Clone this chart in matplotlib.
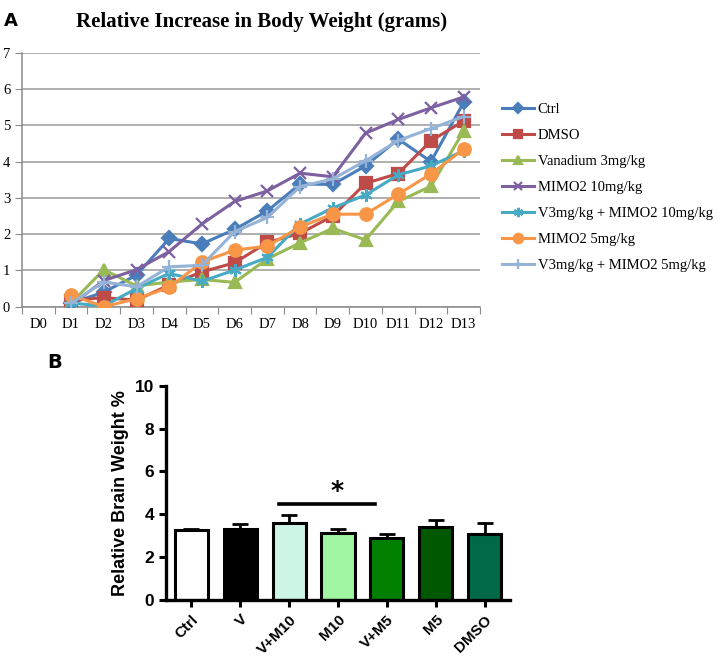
import numpy as np
import matplotlib
matplotlib.use('Agg')
import matplotlib.pyplot as plt


# ---- panel A data: relative body weight gain, D1..D13 (D0 is empty)
days = ['D0', 'D1', 'D2', 'D3', 'D4', 'D5', 'D6', 'D7', 'D8', 'D9', 'D10', 'D11', 'D12', 'D13']

ctrl      = [0.10, 0.40, 0.87, 1.88, 1.73, 2.13, 2.64, 3.38, 3.37, 3.88, 4.62, 4.00, 5.63]
dmso      = [0.17, 0.25, 0.18, 0.60, 0.96, 1.21, 1.77, 2.02, 2.50, 3.40, 3.67, 4.57, 5.12]
vanadium  = [0.10, 1.02, 0.57, 0.68, 0.75, 0.67, 1.32, 1.76, 2.16, 1.84, 2.90, 3.32, 4.84]
mimo10    = [0.05, 0.72, 1.02, 1.52, 2.28, 2.90, 3.19, 3.68, 3.58, 4.78, 5.16, 5.48, 5.78]
v_mimo10  = [0.10, 0.02, 0.50, 0.92, 0.70, 1.01, 1.36, 2.28, 2.72, 3.08, 3.63, 3.88, 4.30]
mimo5     = [0.32, 0.00, 0.22, 0.53, 1.23, 1.56, 1.67, 2.20, 2.55, 2.55, 3.10, 3.66, 4.34]
v_mimo5   = [0.10, 0.68, 0.55, 1.10, 1.14, 2.07, 2.46, 3.31, 3.52, 4.02, 4.58, 4.91, 5.24]

series_labels = ['Ctrl', 'DMSO', 'Vanadium 3mg/kg', 'MIMO2 10mg/kg',
                 'V3mg/kg + MIMO2 10mg/kg', 'MIMO2 5mg/kg', 'V3mg/kg + MIMO2 5mg/kg']

# ---- panel B data: relative brain weight %
groups     = ['Ctrl', 'V', 'V+M10', 'M10', 'V+M5', 'M5', 'DMSO']
brain_mean = [3.27, 3.30, 3.57, 3.11, 2.91, 3.39, 3.06]
brain_err  = [0.03, 0.25, 0.41, 0.22, 0.19, 0.36, 0.52]
sig_pair   = (2, 4)   # V+M10 .. V+M5, marked with *
sig_level  = 4.48


series = [ctrl, dmso, vanadium, mimo10, v_mimo10, mimo5, v_mimo5]
colors = ['#4A7EBB', '#BE4B48', '#98B954', '#7D60A0', '#46AAC5', '#F79646', '#95B3D7']
markers = ['D', 's', '^', 'x', (6, 2, 0), 'o', '+']
msizes = [7, 8, 8, 8, 9, 9, 10]

bar_colors = ['#FFFFFF', '#000000', '#CCF5E6', '#A0F5A0', '#007F00', '#005800', '#006A48']

serif = 'Liberation Serif'

fig = plt.figure(figsize=(7.22, 6.57), dpi=100)

# ================= panel A =================
axA = fig.add_axes([22/722, 1-306.7/657, 458/722, 254/657])
x = np.arange(1, len(days))
for y, lab, c, m, ms in zip(series, series_labels, colors, markers, msizes):
    axA.plot(x, y, color=c, lw=2.2, marker=m, ms=ms, mew=1.6,
             mfc=c, mec=c, label=lab, zorder=3)

axA.set_xlim(-0.5, len(days) - 0.5)
axA.set_ylim(0, 7)
axA.set_yticks(range(0, 8))
axA.yaxis.grid(True, color='#9a9a9a', lw=1.1)
axA.set_axisbelow(True)
# tick marks on category boundaries, labels centred on categories
axA.set_xticks(np.arange(-0.5, len(days)))
axA.set_xticklabels([])
axA.set_xticks(np.arange(len(days)), minor=True)
axA.set_xticklabels(days, minor=True, fontfamily=serif, fontsize=10.5)
axA.tick_params(axis='x', which='minor', length=0, pad=8)
axA.tick_params(axis='x', which='major', length=5, color='#8a8a8a')
axA.tick_params(axis='y', length=5, color='#8a8a8a', labelsize=10.5)
for t in axA.get_yticklabels():
    t.set_fontfamily(serif)
for s in ['top', 'right']:
    axA.spines[s].set_visible(False)
for s in ['left', 'bottom']:
    axA.spines[s].set_color('#8a8a8a')
    axA.spines[s].set_linewidth(1.1)

axA.legend(loc='upper left', bbox_to_anchor=(1.035, 0.825), frameon=False,
           prop={'family': serif, 'size': 10.5}, handlelength=2.2,
           handletextpad=0.25, labelspacing=0.88, borderaxespad=0,
           markerscale=0.75)

fig.text(262/722, 1-22/657, 'Relative Increase in Body Weight (grams)',
         ha='center', va='center', fontfamily=serif, fontweight='bold',
         fontsize=15)
fig.text(4/722, 1-21/657, 'A', ha='left', va='center', fontweight='bold',
         fontsize=13)

# ================= panel B =================
axB = fig.add_axes([166/722, 1-600/657, 344/722, 214.3/657])
xb = np.arange(len(groups))
axB.bar(xb, brain_mean, width=0.68, color=bar_colors, edgecolor='black',
        linewidth=2.2, zorder=2)
axB.errorbar(xb, brain_mean, yerr=[np.zeros(len(xb)), brain_err], fmt='none',
             ecolor='black', elinewidth=2.0, capsize=6, capthick=2.0, zorder=1)

axB.plot([sig_pair[0] - 0.2, sig_pair[1] - 0.25], [sig_level, sig_level],
         color='black', lw=2.6)
axB.text((sig_pair[0] + sig_pair[1]) / 2 - 0.02, sig_level + 0.05, '*',
         ha='center', va='bottom', fontsize=18, fontweight='bold')

axB.set_xlim(-0.52, len(groups) - 0.48)
axB.set_ylim(0, 10)
axB.set_yticks(range(0, 11, 2))
axB.set_xticks(xb)
axB.set_xticklabels(groups, rotation=45, ha='right', rotation_mode='anchor',
                    fontweight='bold', fontsize=11, fontfamily='Liberation Sans')
for t in axB.get_yticklabels():
    t.set_fontweight('bold')
    t.set_fontfamily('Liberation Sans')
    t.set_fontsize(12.5)
axB.tick_params(axis='both', width=2.2, length=5)
axB.tick_params(axis='x', pad=4)
axB.set_ylabel('Relative Brain Weight %', fontweight='bold', fontsize=13,
               fontfamily='Liberation Sans', labelpad=4)
for s in ['top', 'right']:
    axB.spines[s].set_visible(False)
for s in ['left', 'bottom']:
    axB.spines[s].set_linewidth(2.4)

fig.text(47/722, 1-362/657, 'B', ha='left', va='center', fontweight='bold',
         fontsize=14)

fig.savefig('out.png', dpi=100)
